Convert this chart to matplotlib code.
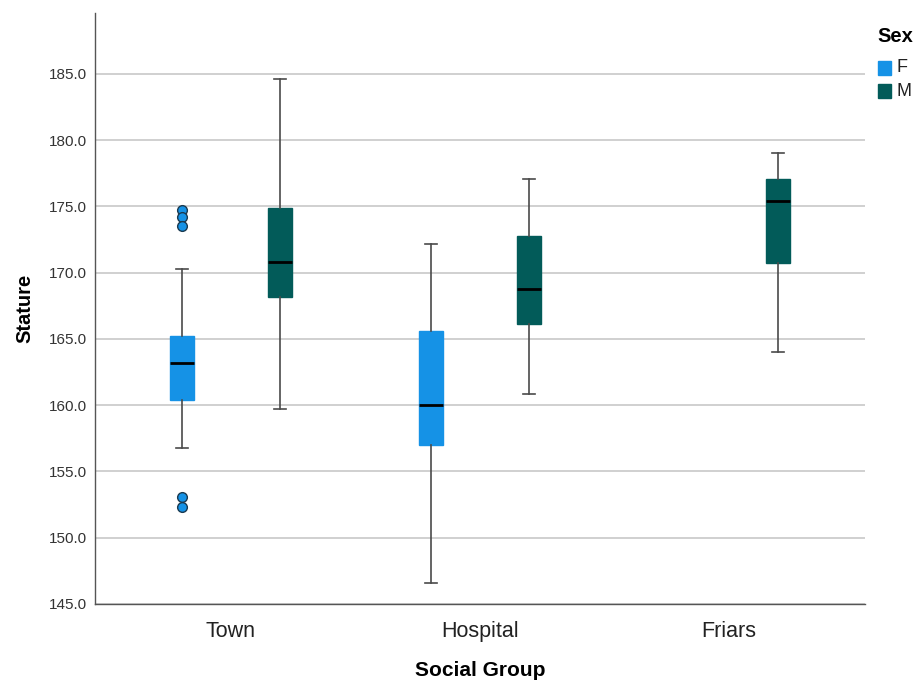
import matplotlib
matplotlib.use("Agg")
import matplotlib.pyplot as plt
from matplotlib.patches import Rectangle

plt.rcParams["font.family"] = ["Liberation Sans", "DejaVu Sans"]

# ---- data ----
groups = ["Town", "Hospital", "Friars"]
sexes = ["F", "M"]
colors = {"F": "#1592e6", "M": "#025b59"}

# per (group, sex): whislo, q1, med, q3, whishi, outliers
box_group = ["Town", "Town", "Hospital", "Hospital", "Friars"]
box_sex = ["F", "M", "F", "M", "M"]
whislo = [156.8, 159.7, 146.6, 160.85, 164.0]
q1 = [160.4, 168.2, 157.0, 166.1, 170.7]
med = [163.2, 170.8, 160.0, 168.75, 175.4]
q3 = [165.2, 174.9, 165.6, 172.8, 177.05]
whishi = [170.3, 184.6, 172.2, 177.1, 179.0]
fliers = [[174.7, 174.2, 173.55, 153.05, 152.35], [], [], [], []]

yticks = [145, 150, 155, 160, 165, 170, 175, 180, 185]

fig = plt.figure(figsize=(9.16, 6.8), dpi=100)
ax = fig.add_axes([0.1037, 0.1118, 0.8406, 0.8692])

offset = 0.197
width = 0.096
for i in range(len(box_group)):
    gi = groups.index(box_group[i])
    pos = gi + (-offset if box_sex[i] == "F" else offset)
    c = colors[box_sex[i]]
    stats = [dict(whislo=whislo[i], q1=q1[i], med=med[i], q3=q3[i],
                  whishi=whishi[i], fliers=fliers[i])]
    ax.bxp(stats, positions=[pos], widths=width, patch_artist=True,
           showfliers=True, manage_ticks=False,
           boxprops=dict(facecolor=c, edgecolor=c, linewidth=1),
           medianprops=dict(color="black", linewidth=2),
           whiskerprops=dict(color="#4a4a4a", linewidth=1.2),
           capprops=dict(color="#4a4a4a", linewidth=1.2),
           capwidths=width * 0.5,
           flierprops=dict(marker="o", markersize=7, markerfacecolor=colors["F"],
                           markeredgecolor="#1a3a50", markeredgewidth=1.0),
           zorder=3)

ax.set_xlim(-0.546, 2.546)
ax.set_ylim(145, 189.6)
ax.set_yticks(yticks)
ax.set_yticklabels([f"{v:.1f}" for v in yticks], fontsize=11, color="#333333")
ax.set_xticks(range(len(groups)))
ax.set_xticklabels(groups, fontsize=15.5, color="#222222")
ax.tick_params(axis="both", length=0, pad=6)
ax.tick_params(axis="x", pad=12)
ax.grid(axis="y", color="#c8c8c8", linewidth=1.2, zorder=0)
ax.set_axisbelow(True)
for s in ["top", "right"]:
    ax.spines[s].set_visible(False)
for s in ["left", "bottom"]:
    ax.spines[s].set_color("#555555")
    ax.spines[s].set_linewidth(1.0)

ax.set_ylabel("Stature", fontsize=14.5, fontweight="bold", labelpad=10)
ax.set_xlabel("Social Group", fontsize=15, fontweight="bold", labelpad=14)

# legend (manual, figure coords)
W, H = 916.0, 680.0
fig.text(877 / W, 1 - 37 / H, "Sex", fontsize=14.5, fontweight="bold",
         ha="left", va="center")
for k, s in enumerate(sexes):
    yc = 68 + 23 * k
    fig.patches.append(Rectangle((878 / W, 1 - (yc + 7) / H), 13 / W, 14 / H,
                                 transform=fig.transFigure, facecolor=colors[s],
                                 edgecolor=colors[s], figure=fig))
    fig.text(897 / W, 1 - yc / H, s, fontsize=13, ha="left", va="center",
             color="#222222")

fig.savefig("out.png", dpi=100)
